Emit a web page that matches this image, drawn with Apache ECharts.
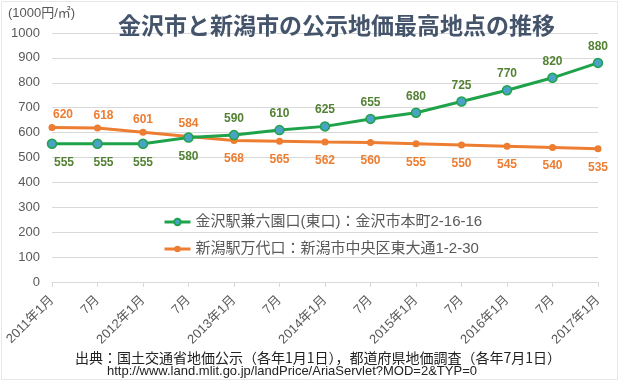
<!DOCTYPE html>
<html><head><meta charset="utf-8">
<script src="https://cdn.jsdelivr.net/npm/echarts@6/dist/echarts.min.js"></script>
<style>html,body{margin:0;padding:0;background:#fff;}#c{width:620px;height:383px;}</style>
</head><body><div id="c"></div>
<script>
var categories = ['2011年1月','7月','2012年1月','7月','2013年1月','7月','2014年1月','7月','2015年1月','7月','2016年1月','7月','2017年1月'];
var kanazawa = [555,555,555,580,590,610,625,655,680,725,770,820,880];
var niigata = [620,618,601,584,568,565,562,560,555,550,545,540,535];
var seriesNames = ['金沢駅兼六園口(東口)：金沢市本町2-16-16','新潟駅万代口：新潟市中央区東大通1-2-30'];
var yTicks = [0,100,200,300,400,500,600,700,800,900,1000];
var titleText = '金沢市と新潟市の公示地価最高地点の推移';
var unitText = '(1000円/㎡)';
var sourceText = '出典：国土交通省地価公示（各年1月1日），都道府県地価調査（各年7月1日）';
var urlText = 'http://www.land.mlit.go.jp/landPrice/AriaServlet?MOD=2&TYP=0';

var FONT = "'Liberation Sans','Noto Sans CJK JP',sans-serif";
var GREEN = '#1FA34A', ORANGE = '#ED7D31';

var gData = kanazawa.map(function(v,i){
  var below = i < 4;
  var off = i===0 ? [12,0] : (i===1 ? [6,0] : [0,0]);
  return {value:v, label:{position: below?'bottom':'top', distance: below?8:5, offset: off}};
});
var oData = niigata.map(function(v,i){
  var above = i < 4;
  var off = i===0 ? [11,0] : (i===1 ? [6,0] : [0,0]);
  return {value:v, label:{position: above?'top':'bottom', distance: above?3:9, offset: off}};
});

var chart = echarts.init(document.getElementById('c'));
chart.setOption({
  animation:false,
  backgroundColor:'#fff',
  textStyle:{fontFamily:FONT},
  title:{text:titleText, left:113, top:9, textStyle:{fontSize:23, fontWeight:'bold', color:'#44546A', fontFamily:"'Noto Sans CJK JP',sans-serif"}},
  grid:{left:52, right:22, top:33, bottom:101, containLabel:false},
  legend:{orient:'vertical', left:158, top:209, itemWidth:26, itemHeight:8, itemGap:11,
    lineStyle:{width:3},
    textStyle:{fontSize:15, color:'#595959', fontFamily:FONT, lineHeight:16}, data:seriesNames},
  xAxis:{type:'category', boundaryGap:false, data:categories,
    axisLine:{lineStyle:{color:'#D9D9D9'}}, axisTick:{show:true, length:5, lineStyle:{color:'#D9D9D9'}},
    axisLabel:{rotate:45, fontSize:13, color:'#595959', margin:16, interval:0}},
  yAxis:{type:'value', min:yTicks[0], max:yTicks[yTicks.length-1], interval:yTicks[1]-yTicks[0],
    axisLine:{show:false}, axisTick:{show:false},
    splitLine:{lineStyle:{color:'#D9D9D9', width:1}},
    axisLabel:{fontSize:13, color:'#595959', margin:12, formatter:function(v){return String(v);}}},
  graphic:[
    {type:'rect', shape:{x:1.5, y:1.5, width:616, height:378}, style:{fill:'none', stroke:'#E4E8EC', lineWidth:1}, silent:true},
    {type:'text', left:8, top:7, style:{text:unitText, fontSize:13, fill:'#595959', fontFamily:FONT}},
    {type:'text', x:318, y:358, style:{text:sourceText, fontSize:14, fill:'#222', textAlign:'center', textVerticalAlign:'middle', fontFamily:"'Noto Sans CJK JP',sans-serif"}},
    {type:'text', x:292, y:371, style:{text:urlText, fontSize:13, fill:'#222', textAlign:'center', textVerticalAlign:'middle', fontFamily:"'Liberation Sans',sans-serif"}}
  ],
  series:[
    {name:seriesNames[0], type:'line', data:gData, symbol:'circle', symbolSize:9,
      lineStyle:{color:GREEN, width:3}, itemStyle:{color:'#4AA3C6', borderColor:GREEN, borderWidth:1.5},
      label:{show:true, fontSize:12, fontWeight:'bold', color:'#548235', fontFamily:FONT}, z:3},
    {name:seriesNames[1], type:'line', data:oData, symbol:'circle', symbolSize:7,
      lineStyle:{color:ORANGE, width:3}, itemStyle:{color:ORANGE},
      label:{show:true, fontSize:12, fontWeight:'bold', color:ORANGE, fontFamily:FONT}, z:2}
  ]
});
</script></body></html>
